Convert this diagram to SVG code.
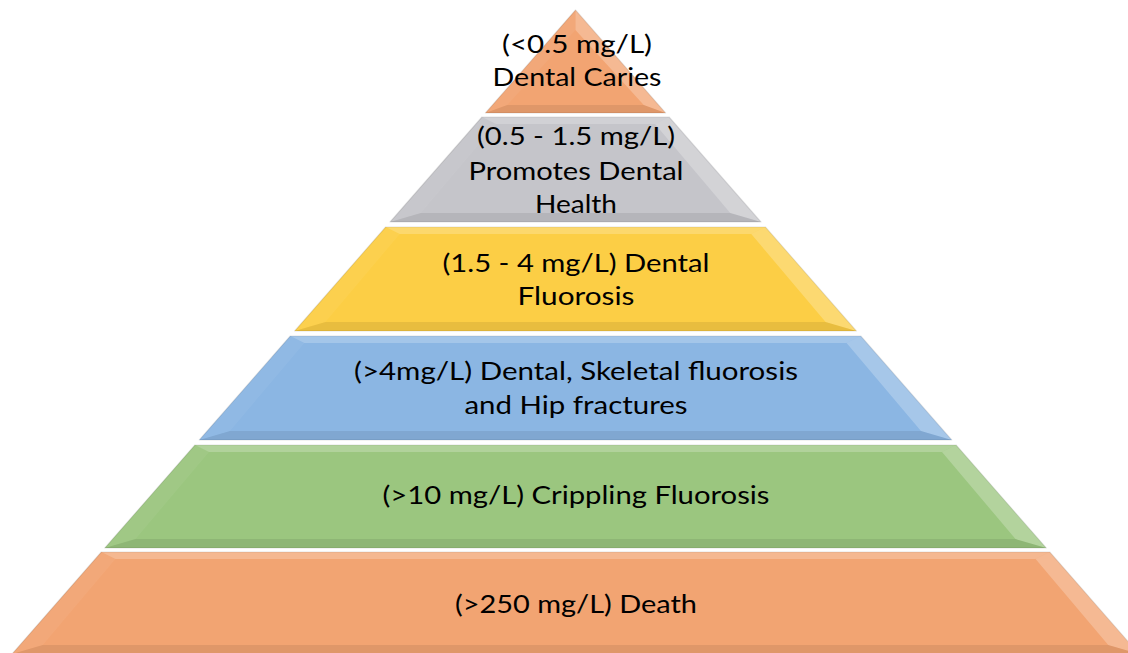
<svg xmlns="http://www.w3.org/2000/svg" width="1128" height="653" viewBox="0 0 1128 653">
<style>
.body{stroke:#000;stroke-opacity:0.1;stroke-width:1.2;stroke-linejoin:round}
.ft{fill:#fff;fill-opacity:0.22}
.fr{fill:#fff;fill-opacity:0.24}
.fb{fill:#000;fill-opacity:0.08}
.fl{fill:#fff;fill-opacity:0.05}
.t{font-family:Lato,"Liberation Sans",sans-serif;font-size:24.5px;fill:#000;text-anchor:middle}
.orange{fill:#F2A472}
.gray{fill:#C5C5CA}
.yellow{fill:#FCCE45}
.blue{fill:#8BB6E3}
.green{fill:#9BC67F}
</style>
<rect width="1128" height="653" fill="#fff"/>
<g id="layer1">
<polygon class="body orange" points="575.5,10 665.6,113 485.4,113"/>
<polygon class="fr" points="575.5,10 665.6,113 643.75,105 575.5,30"/>
<polygon class="fb" points="665.6,113 485.4,113 507.25,105 643.75,105"/>
<polygon class="fl" points="575.5,10 575.5,30 507.25,105 485.4,113"/>
<text class="t" x="577" y="53" textLength="150" lengthAdjust="spacingAndGlyphs">(&lt;0.5 mg/L)</text>
<text class="t" x="577" y="86" textLength="169" lengthAdjust="spacingAndGlyphs">Dental Caries</text>
</g>
<g id="layer2">
<polygon class="body gray" points="481.9,117 669.1,117 761,222 390,222"/>
<polygon class="ft" points="481.9,117 669.1,117 655,124 496,124"/>
<polygon class="fr" points="669.1,117 761,222 730.25,213 655,124"/>
<polygon class="fb" points="761,222 390,222 420.75,213 730.25,213"/>
<polygon class="fl" points="481.9,117 496,124 420.75,213 390,222"/>
<text class="t" x="576" y="145" textLength="198" lengthAdjust="spacingAndGlyphs">(0.5 - 1.5 mg/L)</text>
<text class="t" x="576" y="180" textLength="215" lengthAdjust="spacingAndGlyphs">Promotes Dental</text>
<text class="t" x="576" y="213" textLength="82" lengthAdjust="spacingAndGlyphs">Health</text>
</g>
<g id="layer3">
<polygon class="body yellow" points="385.6,227 765.4,227 856.4,331 294.6,331"/>
<polygon class="ft" points="385.6,227 765.4,227 751.25,234 399.75,234"/>
<polygon class="fr" points="765.4,227 856.4,331 825.6,322 751.25,234"/>
<polygon class="fb" points="856.4,331 294.6,331 325.4,322 825.6,322"/>
<polygon class="fl" points="385.6,227 399.75,234 325.4,322 294.6,331"/>
<text class="t" x="576" y="272" textLength="267" lengthAdjust="spacingAndGlyphs">(1.5 - 4 mg/L) Dental</text>
<text class="t" x="576" y="305" textLength="117" lengthAdjust="spacingAndGlyphs">Fluorosis</text>
</g>
<g id="layer4">
<polygon class="body blue" points="290.25,336 860.75,336 951.75,440 199.25,440"/>
<polygon class="ft" points="290.25,336 860.75,336 846.6,343 304.4,343"/>
<polygon class="fr" points="860.75,336 951.75,440 921,431 846.6,343"/>
<polygon class="fb" points="951.75,440 199.25,440 230,431 921,431"/>
<polygon class="fl" points="290.25,336 304.4,343 230,431 199.25,440"/>
<text class="t" x="576" y="380" textLength="444" lengthAdjust="spacingAndGlyphs">(&gt;4mg/L) Dental, Skeletal fluorosis</text>
<text class="t" x="576" y="414" textLength="223" lengthAdjust="spacingAndGlyphs">and Hip fractures</text>
</g>
<g id="layer5">
<polygon class="body green" points="194.9,445 956.1,445 1046.25,548 104.75,548"/>
<polygon class="ft" points="194.9,445 956.1,445 942,452 209,452"/>
<polygon class="fr" points="956.1,445 1046.25,548 1015.5,539 942,452"/>
<polygon class="fb" points="1046.25,548 104.75,548 135.5,539 1015.5,539"/>
<polygon class="fl" points="194.9,445 209,452 135.5,539 104.75,548"/>
<text class="t" x="576" y="504" textLength="387" lengthAdjust="spacingAndGlyphs">(&gt;10 mg/L) Crippling Fluorosis</text>
</g>
<g id="layer6">
<polygon class="body orange" points="101.25,552 1049.75,552 1139,654 12,654"/>
<polygon class="ft" points="101.25,552 1049.75,552 1035.6,559 115.4,559"/>
<polygon class="fr" points="1049.75,552 1139,654 1108.25,645 1035.6,559"/>
<polygon class="fb" points="1139,654 12,654 42.75,645 1108.25,645"/>
<polygon class="fl" points="101.25,552 115.4,559 42.75,645 12,654"/>
<text class="t" x="576" y="613" textLength="242" lengthAdjust="spacingAndGlyphs">(&gt;250 mg/L) Death</text>
</g>
</svg>
